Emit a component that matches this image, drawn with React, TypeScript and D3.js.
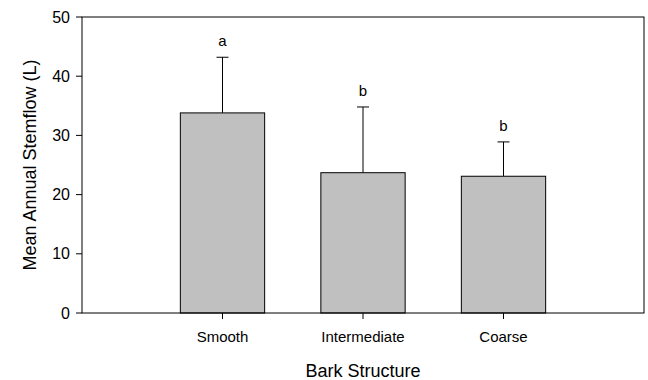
import React from "react";
import * as d3 from "d3";

const categories = ["Smooth", "Intermediate", "Coarse"];
const means = [33.8, 23.7, 23.1];
const errors = [9.4, 11.1, 5.8];
const letters = ["a", "b", "b"];
const yTicks = [0, 10, 20, 30, 40, 50];

export default function App() {
  const W = 648, H = 380;
  const left = 82, right = 644, top = 17, bottom = 313;
  const x = d3.scaleLinear().domain([0, 4]).range([left, right]);
  const y = d3.scaleLinear().domain([0, 50]).range([bottom, top]);
  const bw = (x(1) - x(0)) * 0.6;
  const font = "'Liberation Sans', Arial, sans-serif";
  return (
    <svg width={W} height={H} style={{ position: "absolute", left: 0, top: 0 }} fontFamily={font}>
      <rect x={0} y={0} width={W} height={H} fill="#fff" />
      {categories.map((c, i) => {
        const cx = x(i + 1);
        return (
          <g key={c}>
            <line x1={cx} x2={cx} y1={y(means[i])} y2={y(means[i] + errors[i])} stroke="#000" strokeWidth={1} />
            <line x1={cx - 6} x2={cx + 6} y1={y(means[i] + errors[i])} y2={y(means[i] + errors[i])} stroke="#000" strokeWidth={1} />
            <rect x={cx - bw / 2} y={y(means[i])} width={bw} height={y(0) - y(means[i])} fill="#c0c0c0" stroke="#000" strokeWidth={1} />
            <text x={cx} y={y(means[i] + errors[i]) - 11} textAnchor="middle" fontSize={15}>{letters[i]}</text>
            <line x1={cx} x2={cx} y1={bottom} y2={bottom + 6} stroke="#000" />
            <text x={cx} y={bottom + 29} textAnchor="middle" fontSize={15}>{c}</text>
          </g>
        );
      })}
      <rect x={left} y={top} width={right - left} height={bottom - top} fill="none" stroke="#000" strokeWidth={1} />
      {yTicks.map((t) => (
        <g key={t}>
          <line x1={left - 6} x2={left} y1={y(t)} y2={y(t)} stroke="#000" />
          <text x={left - 12} y={y(t)} dy="0.35em" textAnchor="end" fontSize={16}>{t}</text>
        </g>
      ))}
      <text x={(left + right) / 2} y={377} textAnchor="middle" fontSize={18}>Bark Structure</text>
      <text transform={`translate(36,${(top + bottom) / 2}) rotate(-90)`} textAnchor="middle" fontSize={18}>Mean Annual Stemflow (L)</text>
    </svg>
  );
}
